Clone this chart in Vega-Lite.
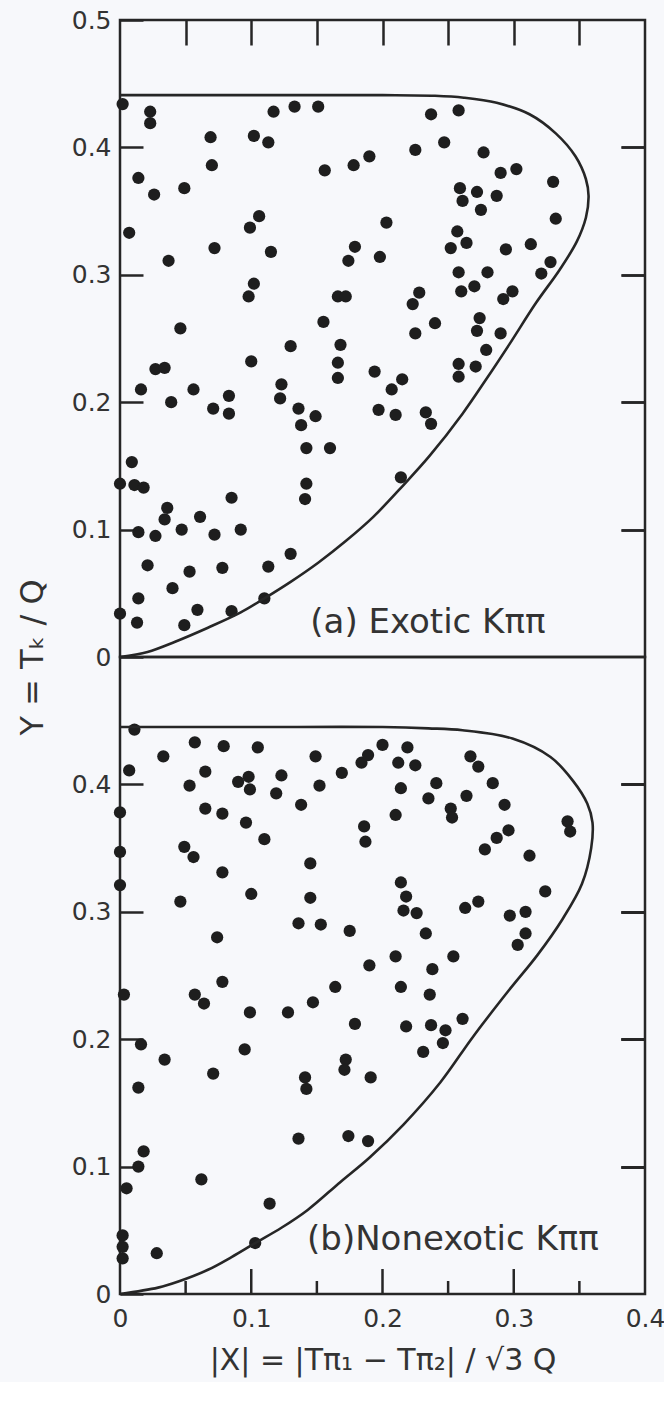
{
"$schema": "https://vega.github.io/schema/vega-lite/v6.json",
"background": "#f7f8fb",
"padding": {"left": 14, "top": 6, "right": 2, "bottom": 5},
"bounds": "flush",
"config": {
  "view": {"stroke": "#262626", "strokeWidth": 2.5},
  "concat": {"spacing": 0},
  "axis": {"grid": false, "domain": false, "tickColor": "#262626", "tickWidth": 2.5, "labelFont": "DejaVu Sans", "labelFontSize": 25, "labelColor": "#333333", "labelFlush": false, "labelOverlap": false, "titleFont": "DejaVu Sans", "titleFontWeight": "normal", "titleColor": "#333333"}
},
"datasets": {
  "pts": [
    {"panel":"a","x":0.002,"y":0.434},{"panel":"a","x":0.023,"y":0.428},{"panel":"a","x":0.023,"y":0.419},{"panel":"a","x":0.117,"y":0.428},{"panel":"a","x":0.133,"y":0.432},{"panel":"a","x":0.151,"y":0.432},{"panel":"a","x":0.069,"y":0.408},{"panel":"a","x":0.102,"y":0.409},{"panel":"a","x":0.113,"y":0.404},{"panel":"a","x":0.070,"y":0.386},{"panel":"a","x":0.156,"y":0.382},{"panel":"a","x":0.178,"y":0.386},{"panel":"a","x":0.190,"y":0.393},{"panel":"a","x":0.014,"y":0.376},{"panel":"a","x":0.026,"y":0.363},{"panel":"a","x":0.049,"y":0.368},{"panel":"a","x":0.007,"y":0.333},{"panel":"a","x":0.106,"y":0.346},{"panel":"a","x":0.099,"y":0.337},{"panel":"a","x":0.072,"y":0.321},{"panel":"a","x":0.115,"y":0.318},{"panel":"a","x":0.037,"y":0.311},{"panel":"a","x":0.179,"y":0.322},{"panel":"a","x":0.174,"y":0.311},{"panel":"a","x":0.102,"y":0.293},{"panel":"a","x":0.098,"y":0.283},{"panel":"a","x":0.166,"y":0.283},{"panel":"a","x":0.172,"y":0.283},{"panel":"a","x":0.046,"y":0.258},{"panel":"a","x":0.155,"y":0.263},{"panel":"a","x":0.130,"y":0.244},{"panel":"a","x":0.168,"y":0.245},
    {"panel":"a","x":0.237,"y":0.426},{"panel":"a","x":0.258,"y":0.429},{"panel":"a","x":0.247,"y":0.404},{"panel":"a","x":0.225,"y":0.398},{"panel":"a","x":0.277,"y":0.396},{"panel":"a","x":0.302,"y":0.383},{"panel":"a","x":0.290,"y":0.380},{"panel":"a","x":0.330,"y":0.373},{"panel":"a","x":0.259,"y":0.368},{"panel":"a","x":0.261,"y":0.358},{"panel":"a","x":0.272,"y":0.365},{"panel":"a","x":0.287,"y":0.362},{"panel":"a","x":0.275,"y":0.351},{"panel":"a","x":0.332,"y":0.344},{"panel":"a","x":0.203,"y":0.341},{"panel":"a","x":0.257,"y":0.334},{"panel":"a","x":0.264,"y":0.325},{"panel":"a","x":0.252,"y":0.321},{"panel":"a","x":0.294,"y":0.320},{"panel":"a","x":0.313,"y":0.324},{"panel":"a","x":0.198,"y":0.314},{"panel":"a","x":0.328,"y":0.310},{"panel":"a","x":0.321,"y":0.301},{"panel":"a","x":0.258,"y":0.302},{"panel":"a","x":0.280,"y":0.302},{"panel":"a","x":0.260,"y":0.287},{"panel":"a","x":0.270,"y":0.291},{"panel":"a","x":0.292,"y":0.281},{"panel":"a","x":0.299,"y":0.287},{"panel":"a","x":0.228,"y":0.286},{"panel":"a","x":0.223,"y":0.277},{"panel":"a","x":0.240,"y":0.262},{"panel":"a","x":0.225,"y":0.254},{"panel":"a","x":0.274,"y":0.266},{"panel":"a","x":0.272,"y":0.256},{"panel":"a","x":0.290,"y":0.254},
    {"panel":"a","x":0.279,"y":0.241},{"panel":"a","x":0.258,"y":0.230},{"panel":"a","x":0.258,"y":0.220},{"panel":"a","x":0.271,"y":0.228},{"panel":"a","x":0.194,"y":0.224},{"panel":"a","x":0.215,"y":0.218},{"panel":"a","x":0.207,"y":0.210},{"panel":"a","x":0.197,"y":0.194},{"panel":"a","x":0.210,"y":0.190},{"panel":"a","x":0.233,"y":0.192},{"panel":"a","x":0.237,"y":0.183},{"panel":"a","x":0.214,"y":0.141},
    {"panel":"a","x":0.100,"y":0.232},{"panel":"a","x":0.166,"y":0.231},{"panel":"a","x":0.166,"y":0.219},{"panel":"a","x":0.027,"y":0.226},{"panel":"a","x":0.034,"y":0.227},{"panel":"a","x":0.016,"y":0.210},{"panel":"a","x":0.039,"y":0.200},{"panel":"a","x":0.056,"y":0.210},{"panel":"a","x":0.071,"y":0.195},{"panel":"a","x":0.083,"y":0.205},{"panel":"a","x":0.083,"y":0.191},{"panel":"a","x":0.123,"y":0.214},{"panel":"a","x":0.122,"y":0.203},{"panel":"a","x":0.136,"y":0.195},{"panel":"a","x":0.149,"y":0.189},{"panel":"a","x":0.138,"y":0.182},{"panel":"a","x":0.142,"y":0.164},{"panel":"a","x":0.160,"y":0.164},{"panel":"a","x":0.009,"y":0.153},{"panel":"a","x":0.000,"y":0.136},{"panel":"a","x":0.011,"y":0.135},{"panel":"a","x":0.018,"y":0.133},{"panel":"a","x":0.036,"y":0.117},{"panel":"a","x":0.034,"y":0.108},{"panel":"a","x":0.061,"y":0.110},{"panel":"a","x":0.047,"y":0.100},{"panel":"a","x":0.072,"y":0.096},{"panel":"a","x":0.092,"y":0.100},{"panel":"a","x":0.014,"y":0.098},{"panel":"a","x":0.027,"y":0.095},{"panel":"a","x":0.085,"y":0.125},{"panel":"a","x":0.142,"y":0.136},{"panel":"a","x":0.141,"y":0.124},{"panel":"a","x":0.021,"y":0.072},{"panel":"a","x":0.053,"y":0.067},{"panel":"a","x":0.078,"y":0.070},{"panel":"a","x":0.113,"y":0.071},{"panel":"a","x":0.130,"y":0.081},{"panel":"a","x":0.040,"y":0.054},{"panel":"a","x":0.014,"y":0.046},{"panel":"a","x":0.110,"y":0.046},{"panel":"a","x":0.059,"y":0.037},{"panel":"a","x":0.085,"y":0.036},{"panel":"a","x":0.000,"y":0.034},{"panel":"a","x":0.013,"y":0.027},{"panel":"a","x":0.049,"y":0.025},
    {"panel":"b","x":0.011,"y":0.443},{"panel":"b","x":0.057,"y":0.433},{"panel":"b","x":0.079,"y":0.430},{"panel":"b","x":0.105,"y":0.429},{"panel":"b","x":0.033,"y":0.422},{"panel":"b","x":0.149,"y":0.422},{"panel":"b","x":0.007,"y":0.411},{"panel":"b","x":0.065,"y":0.410},{"panel":"b","x":0.053,"y":0.399},{"panel":"b","x":0.090,"y":0.402},{"panel":"b","x":0.098,"y":0.406},{"panel":"b","x":0.099,"y":0.396},{"panel":"b","x":0.123,"y":0.407},{"panel":"b","x":0.119,"y":0.393},{"panel":"b","x":0.152,"y":0.399},{"panel":"b","x":0.169,"y":0.409},{"panel":"b","x":0.184,"y":0.417},{"panel":"b","x":0.189,"y":0.423},{"panel":"b","x":0.138,"y":0.384},{"panel":"b","x":0.000,"y":0.378},{"panel":"b","x":0.065,"y":0.381},{"panel":"b","x":0.078,"y":0.377},{"panel":"b","x":0.096,"y":0.370},{"panel":"b","x":0.110,"y":0.357},{"panel":"b","x":0.186,"y":0.367},{"panel":"b","x":0.187,"y":0.355},{"panel":"b","x":0.000,"y":0.347},{"panel":"b","x":0.049,"y":0.351},{"panel":"b","x":0.056,"y":0.343},{"panel":"b","x":0.145,"y":0.338},{"panel":"b","x":0.078,"y":0.331},{"panel":"b","x":0.000,"y":0.321},{"panel":"b","x":0.046,"y":0.308},{"panel":"b","x":0.100,"y":0.314},{"panel":"b","x":0.145,"y":0.311},{"panel":"b","x":0.136,"y":0.291},{"panel":"b","x":0.153,"y":0.290},{"panel":"b","x":0.175,"y":0.285},{"panel":"b","x":0.074,"y":0.280},{"panel":"b","x":0.190,"y":0.258},{"panel":"b","x":0.078,"y":0.245},{"panel":"b","x":0.164,"y":0.241},
    {"panel":"b","x":0.200,"y":0.431},{"panel":"b","x":0.219,"y":0.429},{"panel":"b","x":0.212,"y":0.417},{"panel":"b","x":0.225,"y":0.415},{"panel":"b","x":0.267,"y":0.422},{"panel":"b","x":0.273,"y":0.414},{"panel":"b","x":0.284,"y":0.401},{"panel":"b","x":0.214,"y":0.397},{"panel":"b","x":0.241,"y":0.401},{"panel":"b","x":0.235,"y":0.389},{"panel":"b","x":0.264,"y":0.391},{"panel":"b","x":0.293,"y":0.384},{"panel":"b","x":0.252,"y":0.381},{"panel":"b","x":0.253,"y":0.374},{"panel":"b","x":0.210,"y":0.376},{"panel":"b","x":0.341,"y":0.371},{"panel":"b","x":0.343,"y":0.363},{"panel":"b","x":0.296,"y":0.364},{"panel":"b","x":0.287,"y":0.358},{"panel":"b","x":0.278,"y":0.349},{"panel":"b","x":0.312,"y":0.344},{"panel":"b","x":0.214,"y":0.323},{"panel":"b","x":0.218,"y":0.312},{"panel":"b","x":0.216,"y":0.301},{"panel":"b","x":0.226,"y":0.299},{"panel":"b","x":0.273,"y":0.308},{"panel":"b","x":0.263,"y":0.303},{"panel":"b","x":0.324,"y":0.316},{"panel":"b","x":0.297,"y":0.297},{"panel":"b","x":0.309,"y":0.300},{"panel":"b","x":0.309,"y":0.283},{"panel":"b","x":0.303,"y":0.274},{"panel":"b","x":0.233,"y":0.283},{"panel":"b","x":0.210,"y":0.265},{"panel":"b","x":0.238,"y":0.255},{"panel":"b","x":0.254,"y":0.265},
    {"panel":"b","x":0.214,"y":0.241},{"panel":"b","x":0.236,"y":0.235},{"panel":"b","x":0.218,"y":0.210},{"panel":"b","x":0.237,"y":0.211},{"panel":"b","x":0.248,"y":0.207},{"panel":"b","x":0.246,"y":0.197},{"panel":"b","x":0.261,"y":0.216},{"panel":"b","x":0.231,"y":0.190},{"panel":"b","x":0.191,"y":0.170},{"panel":"b","x":0.189,"y":0.120},
    {"panel":"b","x":0.003,"y":0.235},{"panel":"b","x":0.057,"y":0.235},{"panel":"b","x":0.064,"y":0.228},{"panel":"b","x":0.099,"y":0.221},{"panel":"b","x":0.128,"y":0.221},{"panel":"b","x":0.147,"y":0.229},{"panel":"b","x":0.179,"y":0.212},{"panel":"b","x":0.016,"y":0.196},{"panel":"b","x":0.034,"y":0.184},{"panel":"b","x":0.095,"y":0.192},{"panel":"b","x":0.071,"y":0.173},{"panel":"b","x":0.141,"y":0.170},{"panel":"b","x":0.142,"y":0.161},{"panel":"b","x":0.172,"y":0.184},{"panel":"b","x":0.171,"y":0.176},{"panel":"b","x":0.014,"y":0.162},{"panel":"b","x":0.018,"y":0.112},{"panel":"b","x":0.014,"y":0.100},{"panel":"b","x":0.136,"y":0.122},{"panel":"b","x":0.174,"y":0.124},{"panel":"b","x":0.005,"y":0.083},{"panel":"b","x":0.062,"y":0.090},{"panel":"b","x":0.114,"y":0.071},{"panel":"b","x":0.002,"y":0.046},{"panel":"b","x":0.002,"y":0.037},{"panel":"b","x":0.002,"y":0.028},{"panel":"b","x":0.028,"y":0.032},{"panel":"b","x":0.103,"y":0.040}
  ],
  "curve": [
    {"panel":"a","i":0,"x":0,"y":0.441},{"panel":"a","i":1,"x":0.1,"y":0.441},{"panel":"a","i":2,"x":0.2,"y":0.441},{"panel":"a","i":3,"x":0.24,"y":0.4405},{"panel":"a","i":4,"x":0.262,"y":0.439},{"panel":"a","i":5,"x":0.287,"y":0.435},{"panel":"a","i":6,"x":0.312,"y":0.426},{"panel":"a","i":7,"x":0.332,"y":0.411},{"panel":"a","i":8,"x":0.347,"y":0.393},{"panel":"a","i":9,"x":0.355,"y":0.375},{"panel":"a","i":10,"x":0.357,"y":0.362},{"panel":"a","i":11,"x":0.355,"y":0.345},{"panel":"a","i":12,"x":0.348,"y":0.326},{"panel":"a","i":13,"x":0.335,"y":0.304},{"panel":"a","i":14,"x":0.317,"y":0.278},{"panel":"a","i":15,"x":0.297,"y":0.246},{"panel":"a","i":16,"x":0.279,"y":0.218},{"panel":"a","i":17,"x":0.261,"y":0.191},{"panel":"a","i":18,"x":0.236,"y":0.158},{"panel":"a","i":19,"x":0.216,"y":0.135},{"panel":"a","i":20,"x":0.193,"y":0.110},{"panel":"a","i":21,"x":0.172,"y":0.091},{"panel":"a","i":22,"x":0.151,"y":0.074},{"panel":"a","i":23,"x":0.130,"y":0.059},{"panel":"a","i":24,"x":0.110,"y":0.046},{"panel":"a","i":25,"x":0.092,"y":0.035},{"panel":"a","i":26,"x":0.067,"y":0.023},{"panel":"a","i":27,"x":0.042,"y":0.012},{"panel":"a","i":28,"x":0.021,"y":0.004},{"panel":"a","i":29,"x":0,"y":0},
    {"panel":"b","i":0,"x":0,"y":0.445},{"panel":"b","i":1,"x":0.1,"y":0.445},{"panel":"b","i":2,"x":0.2,"y":0.445},{"panel":"b","i":3,"x":0.235,"y":0.444},{"panel":"b","i":4,"x":0.261,"y":0.4425},{"panel":"b","i":5,"x":0.299,"y":0.436},{"panel":"b","i":6,"x":0.328,"y":0.4215},{"panel":"b","i":7,"x":0.345,"y":0.403},{"panel":"b","i":8,"x":0.356,"y":0.385},{"panel":"b","i":9,"x":0.360,"y":0.370},{"panel":"b","i":10,"x":0.359,"y":0.350},{"panel":"b","i":11,"x":0.352,"y":0.322},{"panel":"b","i":12,"x":0.337,"y":0.294},{"panel":"b","i":13,"x":0.318,"y":0.266},{"panel":"b","i":14,"x":0.296,"y":0.238},{"panel":"b","i":15,"x":0.269,"y":0.202},{"panel":"b","i":16,"x":0.244,"y":0.166},{"panel":"b","i":17,"x":0.216,"y":0.133},{"panel":"b","i":18,"x":0.190,"y":0.107},{"panel":"b","i":19,"x":0.168,"y":0.088},{"panel":"b","i":20,"x":0.143,"y":0.066},{"panel":"b","i":21,"x":0.123,"y":0.052},{"panel":"b","i":22,"x":0.103,"y":0.040},{"panel":"b","i":23,"x":0.085,"y":0.029},{"panel":"b","i":24,"x":0.067,"y":0.019},{"panel":"b","i":25,"x":0.045,"y":0.010},{"panel":"b","i":26,"x":0.029,"y":0.005},{"panel":"b","i":27,"x":0,"y":0}
  ],
  "notes": [
    {"panel":"a","x":0.145,"y":0.027,"label":"(a) Exotic  Kππ"},
    {"panel":"b","x":0.1425,"y":0.042,"label":"(b)Nonexotic  Kππ"}
  ],
  "xticks": [
    {"x":0.05,"kind":"minor"},{"x":0.1,"kind":"major"},{"x":0.15,"kind":"minor"},{"x":0.2,"kind":"major"},{"x":0.25,"kind":"minor"},{"x":0.3,"kind":"major"},{"x":0.35,"kind":"minor"}
  ]
},
"vconcat": [
  {
    "width": 525, "height": 637,
    "layer": [
      {
        "data": {"name": "pts"},
        "transform": [{"filter": "datum.panel == 'a'"}],
        "mark": {"type": "circle", "size": 150, "color": "#1e1e1e", "opacity": 1},
        "encoding": {
          "x": {"field": "x", "type": "quantitative", "scale": {"domain": [0, 0.4], "nice": false},
                "axis": {"orient": "top", "values": [0.05, 0.1, 0.15, 0.2, 0.25, 0.3, 0.35], "labels": false, "title": null, "tickSize": -25,
                         "encode": {"ticks": {"update": {"y2": {"signal": "abs(datum.value*10 - round(datum.value*10)) < 0.001 ? 25 : 14"}}}}}},
          "y": {"field": "y", "type": "quantitative", "scale": {"domain": [0, 0.5], "nice": false},
                "axis": {"orient": "left", "values": [0, 0.1, 0.2, 0.3, 0.4, 0.5], "format": ".1~f", "tickSize": -23, "labelPadding": 32,
                         "title": "Y = Tₖ / Q", "titleX": -88, "titleY": 637, "titleAngle": -90, "titleAlign": "center", "titleBaseline": "middle", "titleFontSize": 32}}
        }
      },
      {
        "data": {"name": "curve"},
        "transform": [{"filter": "datum.panel == 'a'"}],
        "mark": {"type": "line", "interpolate": "catmull-rom", "color": "#262626", "strokeWidth": 2.6},
        "encoding": {
          "x": {"field": "x", "type": "quantitative",
                "axis": {"orient": "top", "values": [0.05, 0.1, 0.15, 0.2, 0.25, 0.3, 0.35], "labels": false, "title": null, "tickSize": -25,
                         "encode": {"ticks": {"update": {"y2": {"signal": "abs(datum.value*10 - round(datum.value*10)) < 0.001 ? 25 : 14"}}}}}},
          "y": {"field": "y", "type": "quantitative", "axis": {"orient": "right", "values": [0.1, 0.2, 0.3, 0.4], "labels": false, "tickSize": -24, "title": null}},
          "order": {"field": "i", "type": "quantitative"}
        }
      },
      {
        "data": {"name": "notes"},
        "transform": [{"filter": "datum.panel == 'a'"}],
        "mark": {"type": "text", "align": "left", "baseline": "middle", "fontSize": 34, "font": "DejaVu Sans", "color": "#333333"},
        "encoding": {
          "x": {"field": "x", "type": "quantitative",
                "axis": {"orient": "top", "values": [0.05, 0.1, 0.15, 0.2, 0.25, 0.3, 0.35], "labels": false, "title": null, "tickSize": -25,
                         "encode": {"ticks": {"update": {"y2": {"signal": "abs(datum.value*10 - round(datum.value*10)) < 0.001 ? 25 : 14"}}}}}},
          "y": {"field": "y", "type": "quantitative", "axis": {"orient": "right", "values": [0.1, 0.2, 0.3, 0.4], "labels": false, "tickSize": -24, "title": null}},
          "text": {"field": "label"}
        }
      }
    ]
  },
  {
    "width": 525, "height": 637,
    "layer": [
      {
        "data": {"name": "pts"},
        "transform": [{"filter": "datum.panel == 'b'"}],
        "mark": {"type": "circle", "size": 150, "color": "#1e1e1e", "opacity": 1},
        "encoding": {
          "x": {"field": "x", "type": "quantitative", "scale": {"domain": [0, 0.4], "nice": false},
                "axis": {"orient": "bottom", "values": [0, 0.1, 0.2, 0.3, 0.4], "format": ".1~f", "ticks": false, "labelPadding": 12,
                         "title": "|X| = |Tπ₁ − Tπ₂| / √3 Q", "titleFontSize": 30, "titlePadding": 14}},
          "y": {"field": "y", "type": "quantitative", "scale": {"domain": [0, 0.5], "nice": false},
                "axis": {"orient": "left", "values": [0, 0.1, 0.2, 0.3, 0.4], "format": ".1~f", "tickSize": -23, "labelPadding": 32, "title": null}}
        }
      },
      {
        "data": {"name": "curve"},
        "transform": [{"filter": "datum.panel == 'b'"}],
        "mark": {"type": "line", "interpolate": "catmull-rom", "color": "#262626", "strokeWidth": 2.6},
        "encoding": {
          "x": {"field": "x", "type": "quantitative",
                "axis": {"orient": "bottom", "values": [0, 0.1, 0.2, 0.3, 0.4], "format": ".1~f", "ticks": false, "labelPadding": 12,
                         "title": "|X| = |Tπ₁ − Tπ₂| / √3 Q", "titleFontSize": 30, "titlePadding": 14}},
          "y": {"field": "y", "type": "quantitative", "axis": {"orient": "right", "values": [0.1, 0.2, 0.3, 0.4], "labels": false, "tickSize": -24, "title": null}},
          "order": {"field": "i", "type": "quantitative"}
        }
      },
      {
        "data": {"name": "notes"},
        "transform": [{"filter": "datum.panel == 'b'"}],
        "mark": {"type": "text", "align": "left", "baseline": "middle", "fontSize": 34, "font": "DejaVu Sans", "color": "#333333"},
        "encoding": {
          "x": {"field": "x", "type": "quantitative",
                "axis": {"orient": "bottom", "values": [0, 0.1, 0.2, 0.3, 0.4], "format": ".1~f", "ticks": false, "labelPadding": 12,
                         "title": "|X| = |Tπ₁ − Tπ₂| / √3 Q", "titleFontSize": 30, "titlePadding": 14}},
          "y": {"field": "y", "type": "quantitative", "axis": {"orient": "right", "values": [0.1, 0.2, 0.3, 0.4], "labels": false, "tickSize": -24, "title": null}},
          "text": {"field": "label"}
        }
      },
      {
        "data": {"name": "xticks"},
        "transform": [{"filter": "datum.kind == 'major'"}],
        "mark": {"type": "rule", "color": "#262626", "strokeWidth": 2.5},
        "encoding": {
          "x": {"field": "x", "type": "quantitative",
                "axis": {"orient": "bottom", "values": [0, 0.1, 0.2, 0.3, 0.4], "format": ".1~f", "ticks": false, "labelPadding": 12,
                         "title": "|X| = |Tπ₁ − Tπ₂| / √3 Q", "titleFontSize": 30, "titlePadding": 14}},
          "y": {"datum": 0, "type": "quantitative", "axis": {"orient": "right", "values": [0.1, 0.2, 0.3, 0.4], "labels": false, "tickSize": -24, "title": null}},
          "y2": {"datum": 0.0196}
        }
      },
      {
        "data": {"name": "xticks"},
        "transform": [{"filter": "datum.kind == 'minor'"}],
        "mark": {"type": "rule", "color": "#262626", "strokeWidth": 2.5},
        "encoding": {
          "x": {"field": "x", "type": "quantitative",
                "axis": {"orient": "bottom", "values": [0, 0.1, 0.2, 0.3, 0.4], "format": ".1~f", "ticks": false, "labelPadding": 12,
                         "title": "|X| = |Tπ₁ − Tπ₂| / √3 Q", "titleFontSize": 30, "titlePadding": 14}},
          "y": {"datum": 0, "type": "quantitative", "axis": {"orient": "right", "values": [0.1, 0.2, 0.3, 0.4], "labels": false, "tickSize": -24, "title": null}},
          "y2": {"datum": 0.0102}
        }
      }
    ]
  }
]
}
